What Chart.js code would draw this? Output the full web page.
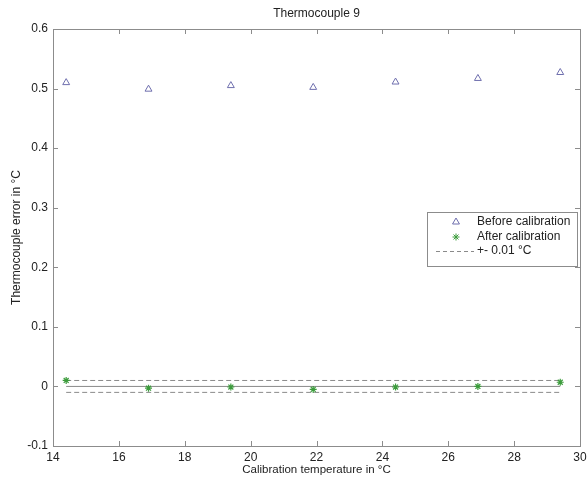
<!DOCTYPE html>
<html>
<head>
<meta charset="utf-8">
<script src="https://cdn.jsdelivr.net/npm/chart.js@4.4.0/dist/chart.umd.min.js"></script>
<style>
  html, body { margin: 0; padding: 0; background: #fff; }
  #wrap { width: 587px; height: 479px; }
</style>
</head>
<body>
<div id="wrap"><canvas id="c" width="587" height="479"></canvas></div>
<script>
// Calibration temperatures (°C) and thermocouple errors (°C)
const temperatures = [14.4, 16.9, 19.4, 21.9, 24.4, 26.9, 29.4];
const beforeCalibration = [0.510, 0.499, 0.505, 0.502, 0.511, 0.517, 0.527];
const afterCalibration = [0.010, -0.003, -0.001, -0.005, -0.001, 0.000, 0.007];
const tolerance = 0.01;
const xTicks = [14, 16, 18, 20, 22, 24, 26, 28, 30];
const yTicks = [-0.1, 0, 0.1, 0.2, 0.3, 0.4, 0.5, 0.6];

const titleText = 'Thermocouple 9';
const xTitle = 'Calibration temperature in °C';
const yTitle = 'Thermocouple error in °C';
const legendLabels = ['Before calibration', 'After calibration', '+- 0.01 °C'];

const FONT = '"Liberation Sans", Arial, sans-serif';
const purple = '#6f6fae';
const green = '#3c9c3c';
const grey = '#8a8a8a';

const first = temperatures[0], last = temperatures[temperatures.length - 1];
const band = (v) => [{ x: first, y: v }, { x: last, y: v }];

// Frame, inward ticks, titles and legend, drawn through the chart's scales
const decorations = {
  id: 'decorations',
  afterDraw(chart) {
    const { ctx, chartArea: a, scales: { x, y } } = chart;
    ctx.save();
    ctx.strokeStyle = '#8c8c8c';
    ctx.lineWidth = 1;
    ctx.strokeRect(Math.round(a.left) + 0.5, Math.round(a.top) + 0.5,
                   Math.round(a.right - a.left), Math.round(a.bottom - a.top));
    const t = 5;
    ctx.beginPath();
    xTicks.forEach(v => {
      const px = Math.round(x.getPixelForValue(v)) + 0.5;
      ctx.moveTo(px, a.bottom); ctx.lineTo(px, a.bottom - t);
      ctx.moveTo(px, a.top); ctx.lineTo(px, a.top + t);
    });
    yTicks.forEach(v => {
      const py = Math.round(y.getPixelForValue(v)) + 0.5;
      ctx.moveTo(a.left, py); ctx.lineTo(a.left + t, py);
      ctx.moveTo(a.right, py); ctx.lineTo(a.right - t, py);
    });
    ctx.stroke();

    // titles
    ctx.fillStyle = '#222';
    ctx.textAlign = 'center';
    ctx.textBaseline = 'middle';
    ctx.font = '12px ' + FONT;
    ctx.fillText(titleText, (a.left + a.right) / 2, 14);
    ctx.font = '11.5px ' + FONT;
    ctx.fillText(xTitle, (a.left + a.right) / 2, 470);
    ctx.save();
    ctx.translate(17, (a.top + a.bottom) / 2);
    ctx.rotate(-Math.PI / 2);
    ctx.font = '12px ' + FONT;
    ctx.fillText(yTitle, 0, 0);
    ctx.restore();

    // legend box
    const lx = 427, ly = 212, lw = 150, lh = 54;
    ctx.fillStyle = '#fff';
    ctx.fillRect(lx, ly, lw, lh);
    ctx.strokeStyle = '#8c8c8c';
    ctx.strokeRect(lx + 0.5, ly + 0.5, lw, lh);
    const rows = [222, 237, 251];
    const mx = 456;
    ctx.lineWidth = 1;
    ctx.strokeStyle = purple;
    Chart.helpers.drawPoint(ctx, { pointStyle: 'triangle', radius: 4, borderWidth: 1 }, mx, rows[0]);
    ctx.strokeStyle = green;
    Chart.helpers.drawPoint(ctx, { pointStyle: 'star', radius: 3.5, borderWidth: 1 }, mx, rows[1]);
    ctx.strokeStyle = grey;
    ctx.setLineDash([4, 3]);
    ctx.beginPath(); ctx.moveTo(436, rows[2] + 0.5); ctx.lineTo(474, rows[2] + 0.5); ctx.stroke();
    ctx.setLineDash([]);
    ctx.fillStyle = '#222';
    ctx.textAlign = 'left';
    ctx.font = '12px ' + FONT;
    legendLabels.forEach((s, i) => ctx.fillText(s, 477, rows[i]));
    ctx.restore();
  }
};

new Chart(document.getElementById('c'), {
  type: 'scatter',
  data: {
    datasets: [
      {
        label: legendLabels[0],
        data: temperatures.map((t, i) => ({ x: t, y: beforeCalibration[i] })),
        pointStyle: 'triangle', pointRadius: 4, borderWidth: 1,
        borderColor: purple, backgroundColor: 'rgba(0,0,0,0)'
      },
      {
        label: legendLabels[1],
        data: temperatures.map((t, i) => ({ x: t, y: afterCalibration[i] })),
        pointStyle: 'star', pointRadius: 3.5, borderWidth: 1.2,
        borderColor: green, backgroundColor: green
      },
      {
        label: legendLabels[2], data: band(tolerance), showLine: true,
        borderColor: grey, borderWidth: 1, borderDash: [5, 3], pointRadius: 0
      },
      {
        label: '-' + legendLabels[2], data: band(-tolerance), showLine: true,
        borderColor: grey, borderWidth: 1, borderDash: [5, 3], pointRadius: 0
      },
      {
        label: 'zero', data: band(0), showLine: true,
        borderColor: grey, borderWidth: 1, pointRadius: 0
      }
    ]
  },
  options: {
    responsive: false,
    animation: false,
    layout: { padding: { top: 29, right: 7, left: 0, bottom: 0 } },
    plugins: { legend: { display: false }, tooltip: { enabled: false }, title: { display: false } },
    scales: {
      x: {
        type: 'linear', min: 14, max: 30,
        afterBuildTicks: (s) => { s.ticks = xTicks.map(v => ({ value: v })); },
        afterFit: (s) => { s.height = 33; s.paddingLeft = 0; s.paddingRight = 0; },
        grid: { display: false, drawTicks: false },
        border: { display: false },
        ticks: { color: '#222', font: { family: FONT, size: 12 }, padding: 4, maxRotation: 0 }
      },
      y: {
        type: 'linear', min: -0.1, max: 0.6,
        afterBuildTicks: (s) => { s.ticks = yTicks.map(v => ({ value: v })); },
        afterFit: (s) => { s.width = 53; s.paddingTop = 0; s.paddingBottom = 0; },
        grid: { display: false, drawTicks: false },
        border: { display: false },
        ticks: {
          color: '#222', font: { family: FONT, size: 12 }, padding: 5,
          callback: (v) => String(Math.round(v * 10) / 10)
        }
      }
    }
  },
  plugins: [decorations]
});
</script>
</body>
</html>
